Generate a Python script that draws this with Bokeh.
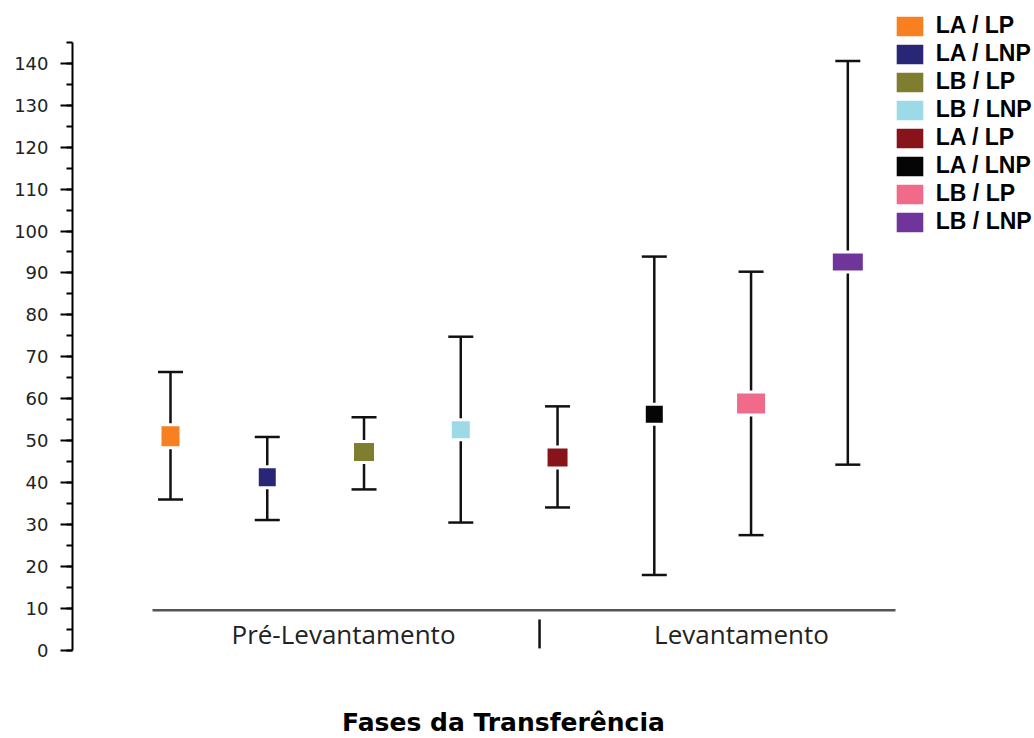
from bokeh.plotting import figure
from bokeh.models import (ColumnDataSource, Range1d, LinearAxis, SingleIntervalTicker,
                          Whisker, TeeHead, Legend, LegendItem)
from bokeh.core.properties import value
from bokeh.embed import file_html
from bokeh.resources import INLINE

# ---------------- data ----------------
categories = ["LA / LP", "LA / LNP", "LB / LP", "LB / LNP",
              "LA / LP", "LA / LNP", "LB / LP", "LB / LNP"]
phases = ["Pré-Levantamento"] * 4 + ["Levantamento"] * 4
means = [51.1, 41.3, 47.3, 52.6, 46.0, 56.3, 58.9, 92.6]
upper = [66.4, 50.9, 55.6, 74.8, 58.2, 93.9, 90.3, 140.5]
lower = [36.0, 31.1, 38.4, 30.5, 34.1, 18.0, 27.5, 44.3]
group_labels = ["Pré-Levantamento", "Levantamento"]
axis_title = "Fases da Transferência"

# ---------------- style ----------------
colors = ["#F98020", "#2A2676", "#7E7D30", "#9BDAE6",
          "#86141A", "#050505", "#F06A8A", "#70359A"]
marker_w = [18, 17, 20, 18, 20, 17, 28, 30]
marker_h = [20, 18, 18, 17, 18, 17, 20, 17]
GAP = 3

W, H = 1034, 738
LEFT = 72
Y0_PX = 650          # screen y of value 0
KY = 4.195           # px per unit (y)
X1_PX = 170          # screen x of first category
KX = 96.76           # px per category

y_start = -(H - Y0_PX) / KY
y_end = Y0_PX / KY
x_start = 1 - (X1_PX - LEFT) / KX
x_end = 1 + (W - X1_PX) / KX

xs = list(range(1, len(categories) + 1))

p = figure(width=W, height=H, output_backend="svg", toolbar_location=None,
           x_range=Range1d(x_start, x_end), y_range=Range1d(y_start, y_end),
           x_axis_location=None, y_axis_location=None,
           min_border_left=LEFT, min_border_right=0, min_border_top=0, min_border_bottom=0)
p.outline_line_color = None
p.grid.visible = False
p.background_fill_color = "white"

yax = LinearAxis(ticker=SingleIntervalTicker(interval=10, num_minor_ticks=2), bounds=(0, 145))
yax.axis_line_color = "black"
yax.axis_line_width = 2
yax.major_tick_line_color = "black"
yax.major_tick_line_width = 2
yax.major_tick_out = 12
yax.major_tick_in = 0
yax.minor_tick_line_color = "black"
yax.minor_tick_line_width = 2
yax.minor_tick_out = 6
yax.minor_tick_in = 0
yax.major_label_standoff = 12
yax.major_label_text_font = "DejaVu Sans"
yax.major_label_text_font_size = "18px"
yax.major_label_text_color = "#222222"
p.add_layout(yax, "left")

src = ColumnDataSource(dict(x=xs, mean=means, upper=upper, lower=lower, color=colors,
                            w=[m + GAP for m in marker_w], h=[m + GAP for m in marker_h],
                            cat=categories, phase=phases))

wh = Whisker(source=src, base="x", upper="upper", lower="lower",
             line_color="#111111", line_width=2.5,
             upper_head=TeeHead(size=25, line_width=2.5, line_color="#111111"),
             lower_head=TeeHead(size=25, line_width=2.5, line_color="#111111"))
p.add_layout(wh)

r = p.rect(x="x", y="mean", width="w", height="h", width_units="screen", height_units="screen",
           fill_color="color", line_color="white", line_width=GAP, source=src)

# group axis (line, separator, labels)
p.segment(x0=[0.814], y0=[9.6], x1=[8.493], y1=[9.6], line_color="#555555", line_width=2.5)
p.segment(x0=[4.814], y0=[7.4], x1=[4.814], y1=[0.5], line_color="#111111", line_width=2.5)
p.text(x=[2.788, 6.901], y=[4.05, 4.05], text=group_labels, text_font=value("Open Sans"),
       text_font_size="26px", text_align="center", text_baseline="alphabetic", text_color="#222222")
p.text(x=[4.441], y=[-17.1], text=[axis_title], text_font=value("DejaVu Sans"),
       text_font_style="bold", text_font_size="25px", text_align="center",
       text_baseline="alphabetic", text_color="black")

items = [LegendItem(label=c, renderers=[r], index=i) for i, c in enumerate(categories)]
legend = Legend(items=items, location=(818.8, 502.3), margin=0, padding=0, spacing=0,
                glyph_width=37, glyph_height=28, label_height=28, label_standoff=8,
                label_text_font="Liberation Sans", label_text_font_style="bold",
                label_text_font_size="23px", label_text_color="black",
                background_fill_alpha=0, border_line_alpha=0)
p.add_layout(legend)

open("out.html", "w").write(file_html(p, INLINE))
